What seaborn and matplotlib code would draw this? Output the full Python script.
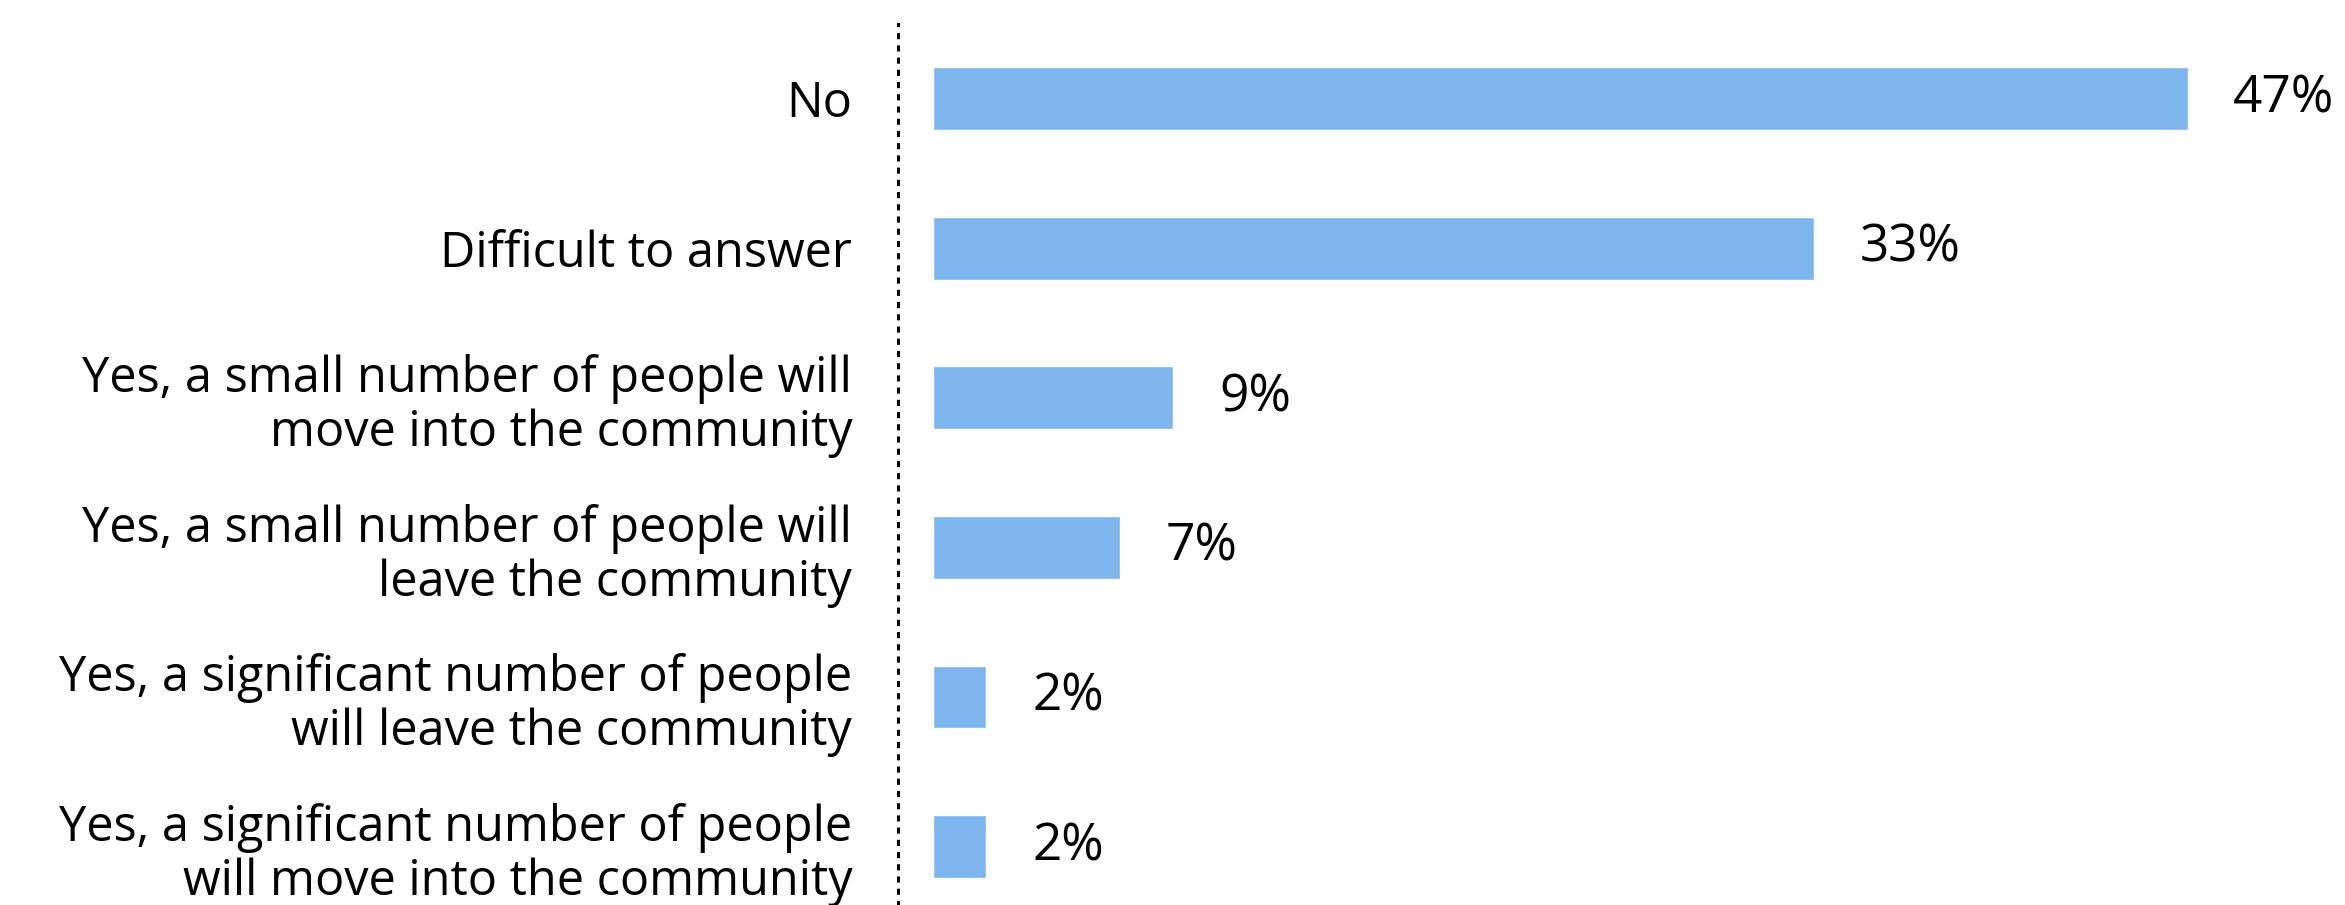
import matplotlib
matplotlib.use("Agg")
import matplotlib.pyplot as plt
import seaborn as sns
import pandas as pd

categories = [
    "No",
    "Difficult to answer",
    "Yes, a small number of people will\nmove into the community",
    "Yes, a small number of people will\nleave the community",
    "Yes, a significant number of people\nwill leave the community",
    "Yes, a significant number of people\nwill move into the community",
]
shares = [47, 33, 9, 7, 2, 2]

df = pd.DataFrame({"category": categories, "share": shares})

sns.set_theme(style="white")
plt.rcParams["font.family"] = ["Open Sans", "DejaVu Sans"]

fig = plt.figure(figsize=(23.45, 9.05), dpi=100)
ax = fig.add_axes([898 / 2345, 0, 1 - 898 / 2345, 1 - 24 / 905])

sns.barplot(data=df, x="share", y="category", orient="h", color="#7EB5EC",
            width=0.42, saturation=1, ax=ax)

for container in ax.containers:
    ax.bar_label(container, labels=[f"{v}%" for v in shares], padding=33,
                 fontsize=37, color="black")

ax.set_xlim(-1.31, 52.9)
ax.set_ylim(5.39, -0.498)
ax.set_xlabel("")
ax.set_ylabel("")
ax.set_xticks([])
ax.tick_params(axis="y", length=0, pad=33, labelsize=35, labelcolor="black")
for lbl in ax.get_yticklabels():
    lbl.set_multialignment("right")
    lbl.set_linespacing(1.12)

for side in ("top", "right", "bottom"):
    ax.spines[side].set_visible(False)
ax.spines["left"].set_color("black")
ax.spines["left"].set_linewidth(2.2)
ax.spines["left"].set_linestyle((0, (1, 3)))

fig.savefig("out.png", dpi=100, facecolor="white")
